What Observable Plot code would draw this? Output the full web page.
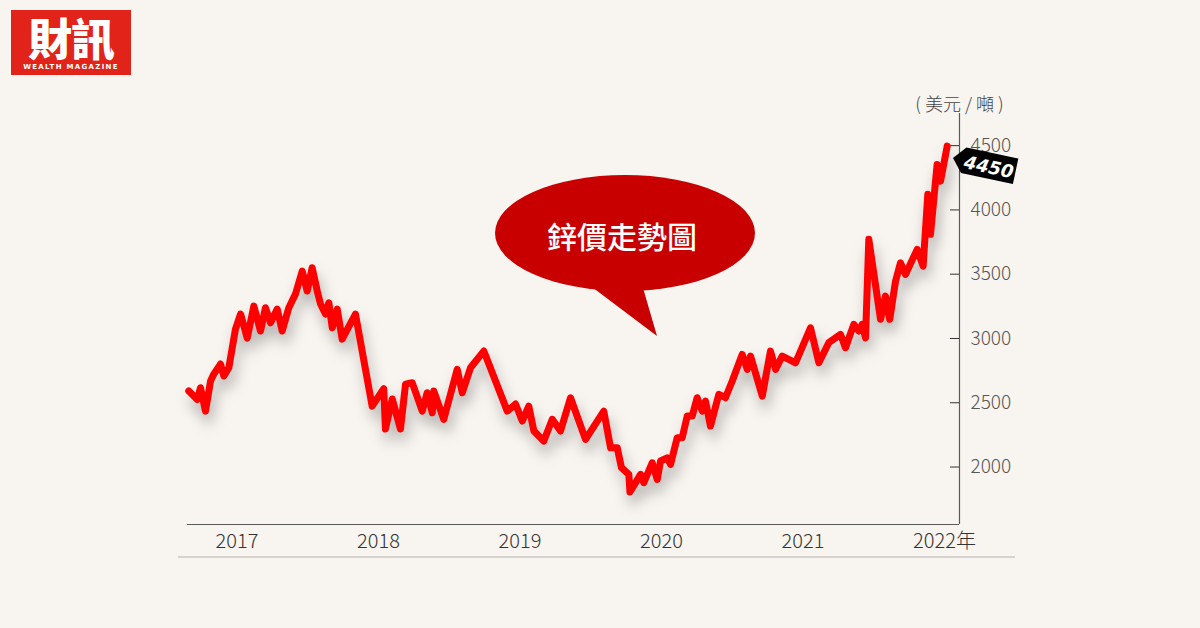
<!DOCTYPE html>
<html>
<head>
<meta charset="utf-8">
<script src="https://cdn.jsdelivr.net/npm/d3@7"></script>
<script src="https://cdn.jsdelivr.net/npm/@observablehq/plot@0.6"></script>
<style>
  html, body { margin: 0; padding: 0; background: #f8f4f0; }
  #wrap { position: relative; width: 1200px; height: 628px; overflow: hidden; background: #f8f4f0; font-family: "Noto Sans CJK TC", "Noto Sans", sans-serif; }
  #chart { position: absolute; left: 0; top: 0; }
  #logo { position: absolute; left: 11px; top: 10px; width: 120px; height: 65px; background: #e2231a; color: #fff; }
  #logo .big { position: absolute; left: 0; top: 4px; width: 120px; text-align: center; font-family: "Noto Sans CJK TC", serif; font-weight: 900; font-size: 44px; line-height: 46px; letter-spacing: -1px; }
  #logo .small { position: absolute; left: 0; top: 53px; width: 120px; text-align: center; font-family: "DejaVu Sans", sans-serif; font-weight: bold; font-size: 7px; letter-spacing: 1.3px; line-height: 9px; }
  #baseline { position: absolute; left: 178px; top: 556px; width: 837px; height: 2px; background: #d6d2ce; }
  #overlay { position: absolute; left: 0; top: 0; pointer-events: none; }
</style>
</head>
<body>
<div id="wrap">
  <div id="logo"><div class="big">財訊</div><div class="small">WEALTH MAGAZINE</div></div>
  <div id="baseline"></div>
  <div id="chart"></div>
  <svg id="overlay" width="1200" height="628" viewBox="0 0 1200 628"></svg>
</div>
<script>
// --- data ---
const dates = [
  2016.659, 2016.719, 2016.742, 2016.777, 2016.813, 2016.836, 2016.883, 2016.907, 2016.942, 2016.989,
  2017.025, 2017.072, 2017.119, 2017.166, 2017.201, 2017.237, 2017.284, 2017.319, 2017.366, 2017.413,
  2017.461, 2017.496, 2017.531, 2017.567, 2017.590, 2017.625, 2017.649, 2017.673, 2017.708, 2017.743,
  2017.837, 2017.955, 2018.037, 2018.049, 2018.097, 2018.155, 2018.191, 2018.238, 2018.309, 2018.344,
  2018.380, 2018.391, 2018.461, 2018.556, 2018.592, 2018.650, 2018.744, 2018.910, 2018.968, 2019.016,
  2019.062, 2019.098, 2019.168, 2019.228, 2019.286, 2019.357, 2019.463, 2019.592, 2019.640, 2019.687,
  2019.717, 2019.769, 2019.777, 2019.852, 2019.875, 2019.934, 2019.970, 2019.993, 2020.040, 2020.064,
  2020.111, 2020.146, 2020.182, 2020.217, 2020.252, 2020.288, 2020.311, 2020.346, 2020.405, 2020.452,
  2020.500, 2020.570, 2020.606, 2020.629, 2020.712, 2020.770, 2020.806, 2020.853, 2020.947, 2021.053,
  2021.112, 2021.182, 2021.265, 2021.300, 2021.359, 2021.394, 2021.418, 2021.442, 2021.465, 2021.548,
  2021.583, 2021.613, 2021.654, 2021.689, 2021.724, 2021.807, 2021.849, 2021.882, 2021.901, 2021.948,
  2021.972, 2022.019
];
const prices = [
  2591, 2526, 2617, 2435, 2669, 2723, 2801, 2708, 2772, 3073,
  3190, 3003, 3252, 3058, 3239, 3122, 3229, 3058, 3239, 3345,
  3524, 3369, 3550, 3369, 3268, 3190, 3278, 3083, 3229, 2995,
  3190, 2474, 2610, 2296, 2529, 2296, 2645, 2656, 2435, 2578,
  2422, 2591, 2371, 2760, 2578, 2772, 2902, 2435, 2490, 2358,
  2474, 2280, 2202, 2371, 2280, 2539, 2215, 2435, 2150, 2150,
  1995, 1943, 1806, 1943, 1878, 2033, 1904, 2047, 2072, 2021,
  2228, 2228, 2397, 2397, 2539, 2435, 2513, 2319, 2565, 2539,
  2669, 2876, 2760, 2863, 2552, 2902, 2760, 2863, 2811, 3083,
  2811, 2967, 3032, 2928, 3110, 3058, 3110, 3005, 3771, 3149,
  3330, 3149, 3446, 3589, 3498, 3693, 3563, 4121, 3810, 4354,
  4224, 4496
];
const yearTicks = [2017, 2018, 2019, 2020, 2021, 2022];
const priceTicks = [2000, 2500, 3000, 3500, 4000, 4500];
const xDomain = [2016.65, 2022.106];
const yDomain = [1553, 4750];
const unitLabel = "( 美元 / 噸 )";
const bubbleText = "鋅價走勢圖";
const lastLabel = "4450";

const data = dates.map((t, i) => ({t, v: prices[i]}));

const font = "'Noto Sans CJK TC', 'Noto Sans', sans-serif";

const chart = Plot.plot({
  width: 1200,
  height: 628,
  marginLeft: 187,
  marginRight: 241,
  marginTop: 113,
  marginBottom: 104,
  style: {background: "transparent", fontFamily: font, overflow: "visible"},
  x: {domain: xDomain, axis: null},
  y: {domain: yDomain, axis: null},
  marks: [
    Plot.ruleY([yDomain[0]], {stroke: "#5a5a5a", strokeWidth: 1.2}),
    Plot.ruleX([xDomain[1]], {stroke: "#5a5a5a", strokeWidth: 1.2}),
    Plot.axisY(priceTicks, {anchor: "left", frameAnchor: "right", tickSize: 9, text: null, label: null, stroke: "#333"}),
    Plot.axisY(priceTicks, {anchor: "right", tickSize: 0, tickPadding: 11, label: null, fontSize: 19, fill: "#555", fontWeight: 300,
      tickFormat: d => String(d)}),
    Plot.axisX(yearTicks, {anchor: "bottom", tickSize: 0, tickPadding: 9, label: null, fontSize: 20, fill: "#333", fontWeight: 300,
      tickFormat: d => d === 2022 ? "2022年" : String(d)}),
    Plot.line(data, {x: "t", y: "v", stroke: "#ff0000", strokeWidth: 7, strokeLinejoin: "round", strokeLinecap: "round"}),
    Plot.text([unitLabel], {frameAnchor: "top-right", dy: -15, text: d => d, fontSize: 18, fill: "#444", textAnchor: "middle", fontWeight: 300})
  ]
});
document.getElementById("chart").appendChild(chart);

// soft drop shadow under the price line
d3.select(chart).selectAll("g[aria-label='line'] path")
  .style("filter", "drop-shadow(3px 10px 7px rgba(0,0,0,0.26))");

// --- annotations: speech bubble and last-value tag ---
const ov = d3.select("#overlay");
const bubble = ov.append("g");
bubble.append("path")
  .attr("d", "M588,284 L657,336 L643,288 Z")
  .attr("fill", "#c80000");
bubble.append("ellipse")
  .attr("cx", 625).attr("cy", 233).attr("rx", 130).attr("ry", 58)
  .attr("fill", "#c80000");
bubble.append("text")
  .attr("x", 622).attr("y", 235)
  .attr("text-anchor", "middle").attr("dominant-baseline", "central")
  .attr("fill", "#fff").attr("font-size", 30).attr("font-weight", 500)
  .attr("font-family", font)
  .text(bubbleText);

const tag = ov.append("g").attr("transform", "translate(953,158) rotate(12)");
tag.append("path")
  .attr("d", "M0,0 L11,-13 L64,-13 L64,13 L11,13 Z")
  .attr("fill", "#000");
tag.append("text")
  .attr("x", 37).attr("y", 1)
  .attr("text-anchor", "middle").attr("dominant-baseline", "central")
  .attr("fill", "#fff").attr("font-size", 18).attr("font-weight", "bold")
  .attr("font-style", "italic")
  .attr("font-family", "'DejaVu Sans', sans-serif")
  .text(lastLabel);
</script>
</body>
</html>
